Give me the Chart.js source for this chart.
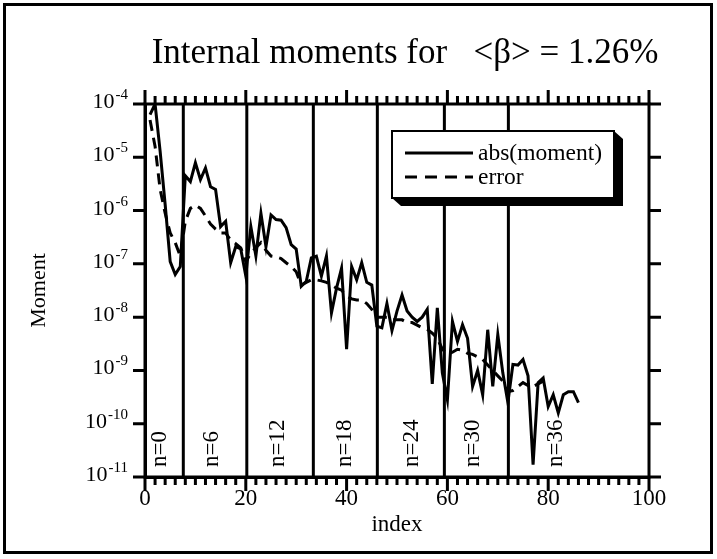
<!DOCTYPE html>
<html>
<head>
<meta charset="utf-8">
<title>Internal moments</title>
<script src="https://cdn.jsdelivr.net/npm/chart.js@4.4.1/dist/chart.umd.min.js"></script>
<style>
  html, body { margin: 0; padding: 0; background: #fff; }
  #wrap { width: 717px; height: 559px; }
</style>
</head>
<body>
<div id="wrap"><canvas id="momentChart" width="717" height="559"></canvas></div>
<script>
// values
const indexValues = [1, 2, 3, 4, 5, 6, 7, 8, 9, 10, 11, 12, 13, 14, 15, 16, 17, 18, 19, 20,
  21, 22, 23, 24, 25, 26, 27, 28, 29, 30, 31, 32, 33, 34, 35, 36, 37, 38, 39, 40,
  41, 42, 43, 44, 45, 46, 47, 48, 49, 50, 51, 52, 53, 54, 55, 56, 57, 58, 59, 60,
  61, 62, 63, 64, 65, 66, 67, 68, 69, 70, 71, 72, 73, 74, 75, 76, 77, 78, 79, 80,
  81, 82, 83, 84, 85, 86];

const absMoment = [6.3e-5, 1.0e-4, 1.3e-5, 1.3e-6, 1.1e-7, 6.3e-8, 8.9e-8, 4.5e-6, 3.5e-6, 7.9e-6,
  3.8e-6, 6.3e-6, 2.8e-6, 2.5e-6, 5.0e-7, 6.3e-7, 1.05e-7, 2.1e-7, 1.9e-7, 5.9e-8,
  5.0e-7, 1.4e-7, 8.9e-7, 2.1e-7, 8.3e-7, 6.8e-7, 6.6e-7, 4.8e-7, 2.3e-7, 1.9e-7,
  3.8e-8, 4.7e-8, 1.3e-7, 1.4e-7, 5.9e-8, 1.4e-7, 1.2e-8, 3.5e-8, 8.3e-8, 2.5e-9,
  8.9e-8, 5.0e-8, 1.05e-7, 4.5e-8, 4.0e-8, 6.8e-9, 6.3e-9, 1.8e-8, 5.6e-9, 1.3e-8,
  2.6e-8, 1.3e-8, 1.0e-8, 8.3e-9, 1.0e-8, 1.4e-8, 5.6e-10, 1.5e-8, 8.9e-10, 2.8e-10,
  8.3e-9, 3.5e-9, 7.2e-9, 4.0e-9, 5.0e-10, 1.0e-9, 3.5e-10, 5.8e-9, 5.0e-10, 4.7e-9,
  8.9e-10, 2.5e-10, 1.3e-9, 1.26e-9, 1.6e-9, 7.9e-10, 1.7e-11, 5.9e-10, 7.2e-10, 2.1e-10,
  3.5e-10, 1.6e-10, 3.5e-10, 4.0e-10, 4.0e-10, 2.5e-10];

const errorValues = [5.0e-5, 1.6e-5, 2.5e-6, 8.9e-7, 3.8e-7, 2.5e-7, 1.4e-7, 6.3e-7, 1.1e-6, 1.26e-6,
  1.1e-6, 7.9e-7, 5.6e-7, 4.5e-7, 3.8e-7, 3.8e-7, 2.8e-7, 2.4e-7, 2.0e-7, 1.1e-7,
  1.6e-7, 2.0e-7, 2.5e-7, 1.8e-7, 1.4e-7, 1.35e-7, 1.26e-7, 1.05e-7, 8.9e-8, 7.1e-8,
  4.0e-8, 4.5e-8, 5.0e-8, 5.0e-8, 4.8e-8, 4.5e-8, 4.0e-8, 3.5e-8, 3.2e-8, 2.5e-8,
  2.2e-8, 2.1e-8, 2.1e-8, 1.8e-8, 1.4e-8, 1.0e-8, 1.0e-8, 1.0e-8, 8.9e-9, 8.9e-9,
  8.9e-9, 7.9e-9, 7.9e-9, 7.1e-9, 6.3e-9, 5.9e-9, 5.0e-9, 4.0e-9, 2.5e-9, 2.0e-9,
  2.2e-9, 2.5e-9, 2.4e-9, 2.1e-9, 2.0e-9, 1.8e-9, 1.6e-9, 1.26e-9, 1.0e-9, 7.9e-10,
  6.3e-10, 4.0e-10, 4.2e-10, 5.0e-10, 5.9e-10, 5.2e-10, 5.0e-10, 5.6e-10, 6.3e-10];

// vertical lines between the n groups, and where the group labels sit
const separators = [7.6, 20.2, 33.4, 46.1, 59.4, 72.1];
const groupLabels = ['n=0', 'n=6', 'n=12', 'n=18', 'n=24', 'n=30', 'n=36'];
const groupPositions = [3, 13.2, 26.4, 39.7, 53, 65.1, 81.5];

const xTickStep = 20;
const xMinorStep = 2;
const yExponents = [-4, -5, -6, -7, -8, -9, -10, -11];

const serif = '"Liberation Serif", "Times New Roman", serif';
const titleText = 'Internal moments for   <\u03b2> = 1.26%';

const toPoints = (xs, ys) => ys.map((v, i) => ({ x: xs[i], y: v }));

const decorations = {
  id: 'decorations',
  beforeDraw(chart) {
    const ctx = chart.ctx;
    ctx.save();
    ctx.fillStyle = '#fff';
    ctx.fillRect(0, 0, chart.width, chart.height);
    ctx.strokeStyle = '#000';
    ctx.lineWidth = 3;
    ctx.strokeRect(4.5, 4.5, 707, 548);
    ctx.restore();
  },
  beforeDatasetsDraw(chart) {
    const ctx = chart.ctx;
    const area = chart.chartArea;
    const xs = chart.scales.x;
    ctx.save();
    ctx.strokeStyle = '#000';
    ctx.lineWidth = 3;
    separators.forEach(s => {
      const px = xs.getPixelForValue(s);
      ctx.beginPath();
      ctx.moveTo(px, area.top);
      ctx.lineTo(px, area.bottom);
      ctx.stroke();
    });
    ctx.restore();
  },
  afterDraw(chart) {
    const ctx = chart.ctx;
    const area = chart.chartArea;
    const xs = chart.scales.x;
    const ys = chart.scales.y;
    ctx.save();
    ctx.strokeStyle = '#000';
    ctx.fillStyle = '#000';
    ctx.lineWidth = 3;

    // box round the plot
    ctx.strokeRect(area.left, area.top, area.right - area.left, area.bottom - area.top);

    // x ticks, outward, top and bottom
    for (let v = xs.min; v <= xs.max; v += xMinorStep) {
      const px = xs.getPixelForValue(v);
      const len = v % xTickStep === 0 ? 14 : 8;
      ctx.beginPath();
      ctx.moveTo(px, area.bottom);
      ctx.lineTo(px, area.bottom + len);
      ctx.moveTo(px, area.top);
      ctx.lineTo(px, area.top - len);
      ctx.stroke();
    }

    // y ticks and 10^n labels
    yExponents.forEach(e => {
      const py = ys.getPixelForValue(Math.pow(10, e));
      ctx.beginPath();
      ctx.moveTo(area.left - 12, py);
      ctx.lineTo(area.left, py);
      ctx.moveTo(area.right, py);
      ctx.lineTo(area.right + 12, py);
      ctx.stroke();

      const exp = String(e);
      ctx.font = '15px ' + serif;
      ctx.textAlign = 'right';
      ctx.textBaseline = 'alphabetic';
      const expRight = area.left - 17;
      ctx.fillText(exp, expRight, py - 5);
      const expW = ctx.measureText(exp).width;
      ctx.font = '22px ' + serif;
      ctx.fillText('10', expRight - expW - 1, py + 4);
    });

    // group labels, rotated
    ctx.font = '23px ' + serif;
    ctx.textAlign = 'left';
    ctx.textBaseline = 'middle';
    groupLabels.forEach((t, i) => {
      const px = xs.getPixelForValue(groupPositions[i]);
      ctx.save();
      ctx.translate(px, area.bottom - 10);
      ctx.rotate(-Math.PI / 2);
      ctx.fillText(t, 0, 0);
      ctx.restore();
    });

    // legend box with shadow
    const L = 392, T = 131, R = 614, B = 198, dx = 9, dy = 8;
    ctx.beginPath();
    ctx.moveTo(R, T);
    ctx.lineTo(R + dx, T + dy);
    ctx.lineTo(R + dx, B + dy);
    ctx.lineTo(L + dx, B + dy);
    ctx.lineTo(L, B);
    ctx.lineTo(R, B);
    ctx.closePath();
    ctx.fill();
    ctx.fillStyle = '#fff';
    ctx.fillRect(L, T, R - L, B - T);
    ctx.lineWidth = 2;
    ctx.strokeRect(L, T, R - L, B - T);
    ctx.fillStyle = '#000';
    ctx.lineWidth = 3;
    ctx.beginPath();
    ctx.moveTo(405, 153);
    ctx.lineTo(473, 153);
    ctx.stroke();
    ctx.setLineDash([12, 8]);
    ctx.beginPath();
    ctx.moveTo(405, 177);
    ctx.lineTo(473, 177);
    ctx.stroke();
    ctx.setLineDash([]);
    ctx.font = '23.5px ' + serif;
    ctx.textAlign = 'left';
    ctx.textBaseline = 'alphabetic';
    ctx.fillText(chart.data.datasets[0].label, 478, 160);
    ctx.fillText(chart.data.datasets[1].label, 478, 184);

    // title
    ctx.font = '35px ' + serif;
    ctx.textAlign = 'center';
    ctx.fillText(titleText, 405, 63);
    ctx.restore();
  }
};

const ctx = document.getElementById('momentChart').getContext('2d');
const momentChart = new Chart(ctx, {
  type: 'line',
  data: {
    datasets: [{
      label: 'abs(moment)',
      data: toPoints(indexValues, absMoment),
      borderColor: '#000',
      borderWidth: 3,
      borderJoinStyle: 'miter',
      pointRadius: 0,
      tension: 0
    }, {
      label: 'error',
      data: toPoints(indexValues, errorValues),
      borderColor: '#000',
      borderWidth: 3,
      borderDash: [11, 7],
      pointRadius: 0,
      tension: 0
    }]
  },
  options: {
    responsive: false,
    animation: false,
    devicePixelRatio: 1,
    layout: { padding: { left: 0, right: 68, top: 104, bottom: 0 } },
    plugins: {
      legend: { display: false },
      title: { display: false },
      tooltip: { enabled: false }
    },
    scales: {
      x: {
        type: 'linear',
        position: 'bottom',
        min: 0,
        max: 100,
        afterFit: s => { s.height = 82; },
        grid: { display: false, drawTicks: false },
        border: { display: true, color: '#000', width: 3 },
        ticks: {
          stepSize: xTickStep,
          color: '#000',
          padding: 8,
          maxRotation: 0,
          font: { family: serif, size: 23 }
        },
        title: {
          display: true,
          text: 'index',
          color: '#000',
          padding: { top: 0, bottom: 20 },
          font: { family: serif, size: 23 }
        }
      },
      y: {
        type: 'logarithmic',
        position: 'left',
        min: 1e-11,
        max: 1e-4,
        afterFit: s => { s.width = 145; },
        grid: { display: false, drawTicks: false },
        border: { display: true, color: '#000', width: 3 },
        ticks: { display: false },
        title: {
          display: true,
          text: 'Moment',
          color: '#000',
          padding: { top: 26, bottom: 0 },
          font: { family: serif, size: 22 }
        }
      }
    }
  },
  plugins: [decorations]
});
</script>
</body>
</html>
